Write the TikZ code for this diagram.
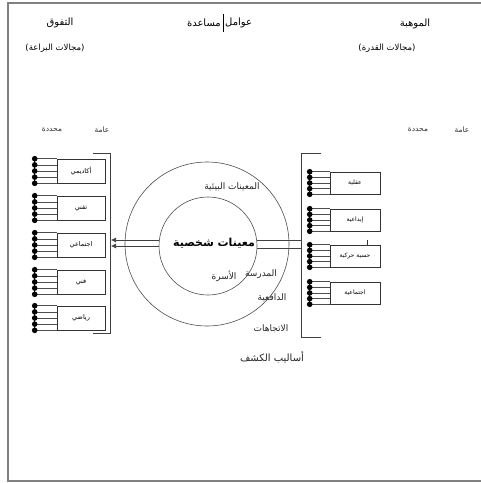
\documentclass[tikz,border=0pt]{standalone}
\usepackage{fontspec}
\newfontfamily\arfont[Script=Arabic]{DejaVu Sans}
\TeXXeTstate=1
\usetikzlibrary{arrows.meta,calc}
\newcommand\AR[1]{{\arfont\beginR #1\endR}}
\begin{document}
\begin{tikzpicture}[x=1pt,y=-1pt,
  frameline/.style={draw=black!50,line width=1.6pt},
  head/.style={inner sep=0pt,font=\fontsize{8.5}{10}\selectfont},
  bighead/.style={inner sep=0pt,font=\fontsize{10}{11}\selectfont},
  colhead/.style={inner sep=0pt,text=black!80,font=\fontsize{7.5}{9}\selectfont},
  ringlbl/.style={inner sep=0pt,text=black!85,font=\fontsize{9}{10}\selectfont},
  lbox/.style={draw=black!80,line width=0.6pt,minimum width=48pt,minimum height=24pt,inner sep=0pt,font=\fontsize{6.5}{7}\selectfont},
  rbox/.style={draw=black!80,line width=0.6pt,minimum width=50pt,minimum height=22pt,inner sep=0pt,font=\fontsize{6}{7}\selectfont},
  bracket/.style={draw=black!75,line width=0.8pt},
  ring/.style={draw=black!70,line width=0.6pt,circle,inner sep=0pt},
  link/.style={draw=black!75,line width=0.6pt}
]
\useasboundingbox (0,0) rectangle (481,483);
% frame
\draw[frameline] (481,3) -- (8,3) -- (8,481) -- (481,481);

% headings
\node[bighead] (h1) at (60,23) {\AR{التفوق}};
\node[head] (h2) at (55,48) {\AR{(مجالات البراعة)}};
\node[bighead,anchor=west] (h3a) at (225,23) {\AR{عوامل}};
\node[bighead,anchor=east] (h3b) at (221,23) {\AR{مساعدة}};
\draw[black, line width=0.8pt] (223,14) -- (223,32);
\node[bighead] (h4) at (415,24) {\AR{الموهبة}};
\node[head] (h5) at (387,48) {\AR{(مجالات القدرة)}};

\node[colhead] (c1) at (52,130) {\AR{محددة}};
\node[colhead] (c2) at (102,130) {\AR{عامة}};
\node[colhead] (c3) at (418,130) {\AR{محددة}};
\node[colhead] (c4) at (462,130) {\AR{عامة}};

% left boxes
\node[lbox] (l1) at (81,171) {\AR{أكاديمي}};
\node[lbox] (l2) at (81,208) {\AR{تقني}};
\node[lbox] (l3) at (81,245) {\AR{اجتماعي}};
\node[lbox] (l4) at (81,282) {\AR{فني}};
\node[lbox] (l5) at (81,318) {\AR{رياضي}};
% right boxes
\node[rbox] (r1) at (355,183) {\AR{عقلية}};
\node[rbox] (r2) at (355,220) {\AR{إبداعية}};
\node[rbox] (r3) at (355,256) {\AR{حسية حركية}};
\node[rbox] (r4) at (355,293) {\AR{اجتماعية}};

% ladders
\foreach \b/\w in {l1/22,l2/22,l3/22,l4/22,l5/22,r1/20,r2/20,r3/20,r4/20}{
  \draw[black,line width=1.2pt] ($(\b.north west)+(-\w,-1)$) -- ($(\b.south west)+(-\w,1)$);
  \foreach \k in {0,1,2,3,4}{
    \draw[black!70,line width=0.5pt] ($(\b.north west)!\k/4!(\b.south west)$) -- ++(-\w,0);
    \fill[black] ($(\b.north west)!\k/4!(\b.south west)+(-\w,0)$) circle (2.8);
  }
}
\draw[black!80,line width=0.5pt] ($(r3.north east)+(-13,0)$) -- ++(0,-5);

% brackets
\coordinate (lbt) at (93,153);
\coordinate (lbb) at (93,333);
\draw[bracket] (lbt) -- (110,153) -- (110,333) -- (lbb);
\coordinate (rbt) at (321,153);
\coordinate (rbb) at (321,337);
\draw[bracket] (rbt) -- (301,153) -- (301,337) -- (rbb);

% rings
\node[ring,minimum size=164pt] (outer) at (207,244) {};
\node[ring,minimum size=98pt] (inner) at (208,246) {};

% central label
\node[inner sep=0pt,font=\fontsize{11}{12}\selectfont\bfseries] (core) at (214,243) {\AR{معينات شخصية}};
\node[ringlbl] (env) at (232,187) {\AR{المعينات البيئية}};
\node[ringlbl] (sch) at (261,274) {\AR{المدرسة}};
\node[ringlbl] (fam) at (224,276) {\AR{الأسرة}};
\node[ringlbl] (mot) at (272,298) {\AR{الدافعية}};
\node[ringlbl] (att) at (271,329) {\AR{الاتجاهات}};
\node[ringlbl,font=\fontsize{10}{11}\selectfont] (det) at (272,357) {\AR{أساليب الكشف}};

% links
\coordinate (la) at (111,240);
\coordinate (lb) at (111,246);
\draw[link,-{Latex[length=5pt,width=5pt]}] (inner.west |- la) -- (la);
\draw[link,-{Latex[length=5pt,width=5pt]}] (inner.west |- lb) -- (lb);
\coordinate (ra) at (301,240);
\coordinate (rb) at (301,248);
\draw[link] (inner.east |- ra) -- (ra);
\draw[link] (inner.east |- rb) -- (rb);
\end{tikzpicture}
\end{document}
